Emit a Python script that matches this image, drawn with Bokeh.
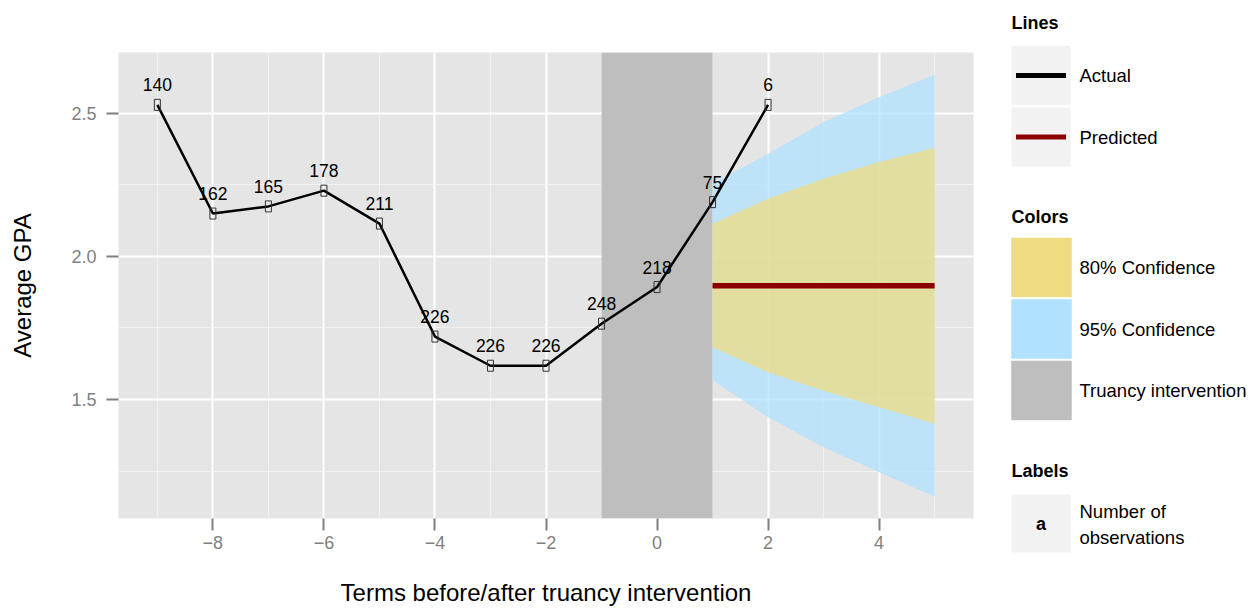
from bokeh.plotting import figure
from bokeh.layouts import row
from bokeh.models import Range1d, FixedTicker
from bokeh.core.properties import value
from bokeh.embed import file_html
from bokeh.resources import INLINE

# ---------------- data ----------------
terms = [-9, -8, -7, -6, -5, -4, -3, -2, -1, 0, 1, 2]
avg_gpa = [2.53, 2.15, 2.175, 2.23, 2.115, 1.72, 1.618, 1.618, 1.765, 1.893, 2.19, 2.53]
n_obs = [140, 162, 165, 178, 211, 226, 226, 226, 248, 218, 75, 6]

forecast_terms = [1, 2, 3, 4, 5]
predicted_gpa = [1.898, 1.898, 1.898, 1.898, 1.898]
lower95 = [1.567, 1.438, 1.333, 1.246, 1.161]
upper95 = [2.255, 2.359, 2.470, 2.557, 2.635]
lower80 = [1.683, 1.595, 1.531, 1.473, 1.415]
upper80 = [2.114, 2.202, 2.272, 2.330, 2.380]

intervention_start = [-1]
intervention_end = [1]

x_ticks = [-8, -6, -4, -2, 0, 2, 4]
x_tick_labels = ["\u22128", "\u22126", "\u22124", "\u22122", "0", "2", "4"]
x_minor = [-9, -7, -5, -3, -1, 1, 3, 5]
y_ticks = [1.5, 2.0, 2.5]
y_tick_labels = ["1.5", "2.0", "2.5"]
y_minor = [1.25, 1.75, 2.25]

line_labels = ["Actual", "Predicted"]
fill_labels = ["80% Confidence", "95% Confidence", "Truancy intervention"]
text_key_labels = ["Number of", "observations"]
legend_titles = ["Lines", "Colors", "Labels"]

# ---------------- style ----------------
FONT = "Liberation Sans"
C_ACTUAL = "black"
C_PRED = "#8B0000"
C_80 = "#EEDC82"
C_95 = "#B0E2FF"
C_BAND = "#BEBEBE"
C_PANEL = "#E5E5E5"
C_KEY = "#F2F2F2"
C_AXIS = "#7F7F7F"

W, H = 990, 609
LW = 258
B_LEFT, B_RIGHT, B_TOP, B_BOTTOM = 118, 17, 52, 91
X_LO, X_HI = -9.7, 5.7
Y_LO, Y_HI = 1.084, 2.713

p = figure(width=W, height=H, x_range=Range1d(X_LO, X_HI), y_range=Range1d(Y_LO, Y_HI),
           output_backend="svg", toolbar_location=None,
           min_border_left=B_LEFT, min_border_right=B_RIGHT,
           min_border_top=B_TOP, min_border_bottom=B_BOTTOM,
           background_fill_color=C_PANEL, border_fill_color="white", outline_line_color=None,
           x_axis_label="Terms before/after truancy intervention", y_axis_label="Average GPA")

p.xaxis.ticker = FixedTicker(ticks=x_ticks, minor_ticks=x_minor)
p.yaxis.ticker = FixedTicker(ticks=y_ticks, minor_ticks=y_minor)
p.xaxis.major_label_overrides = dict(zip(x_ticks, x_tick_labels))
p.yaxis.major_label_overrides = dict(zip(y_ticks, y_tick_labels))

for ax in (p.xaxis, p.yaxis):
    ax.axis_line_color = None
    ax.major_tick_line_color = C_AXIS
    ax.major_tick_line_width = 2
    ax.major_tick_out = 12
    ax.major_tick_in = 0
    ax.minor_tick_line_color = None
    ax.major_label_text_color = C_AXIS
    ax.major_label_text_font = FONT
    ax.major_label_text_font_size = "18px"
    ax.axis_label_text_font = FONT
    ax.axis_label_text_font_size = "24px"
    ax.axis_label_text_font_style = "normal"
    ax.axis_label_text_color = "black"
p.xaxis.major_label_standoff = 5
p.yaxis.major_label_standoff = 10
p.xaxis.axis_label_standoff = 27
p.yaxis.axis_label_standoff = 32

for g in (p.xgrid, p.ygrid):
    g.grid_line_color = "white"
    g.grid_line_width = 2
    g.minor_grid_line_color = "#F2F2F2"
    g.minor_grid_line_width = 1

# intervention band
p.quad(left=intervention_start, right=intervention_end, bottom=[Y_LO], top=[Y_HI],
       fill_color=C_BAND, line_color=None)

# confidence ribbons
p.varea(x=forecast_terms, y1=lower95, y2=upper95, fill_color=C_95, fill_alpha=0.75)
p.varea(x=forecast_terms, y1=lower80, y2=upper80, fill_color=C_80, fill_alpha=0.75)

# predicted line
p.line(forecast_terms, predicted_gpa, line_color=C_PRED, line_width=5.5)

# actual line
p.line(terms, avg_gpa, line_color=C_ACTUAL, line_width=2.5)
p.rect(terms, avg_gpa, width=6, height=11, width_units="screen", height_units="screen",
       fill_alpha=0, line_color="#333333", line_width=1)
p.text(terms, avg_gpa, text=[str(n) for n in n_obs], text_font=value(FONT),
       text_font_size="17.5px", text_align="center", text_baseline="middle",
       y_offset=-20, text_color="black")

# ---------------- legend panel ----------------
# In a row, Bokeh aligns this panel's frame with the main frame, so its ranges
# are set to page pixels: x from W to W+LW, y from frame top to frame bottom.
lg = figure(width=LW, height=H, x_range=Range1d(W, W + LW),
            y_range=Range1d(H - B_BOTTOM, B_TOP),
            output_backend="svg", toolbar_location=None, min_border=0,
            x_axis_type=None, y_axis_type=None, outline_line_color=None,
            background_fill_color="white", border_fill_color="white")

KX = 1040.5    # key centre x
KS = 59        # key size
TX = 1079      # label x
TITLE_X = 1011
LV = "overlay"

def title(txt, y):
    lg.text([TITLE_X], [y], text=[txt], text_font=value(FONT), text_font_size="18px",
            text_font_style="bold", text_baseline="middle", text_align="left",
            text_color="black", level=LV)

def label(txt, y):
    lg.text([TX], [y], text=[txt], text_font=value(FONT), text_font_size="18.5px",
            text_baseline="middle", text_align="left", text_color="black", level=LV)

# Lines
title(legend_titles[0], 22)
line_y = [75, 136.5]
lg.rect([KX, KX], line_y, width=KS, height=KS, fill_color=C_KEY, line_color=None, level=LV)
for yy, col, lab in zip(line_y, [C_ACTUAL, C_PRED], line_labels):
    lg.line([KX - 25, KX + 25], [yy, yy], line_color=col, line_width=5, level=LV)
    label(lab, yy)

# Colors
title(legend_titles[1], 216)
fill_y = [267, 328.5, 390]
lg.rect([KX + 0.5] * 3, fill_y, width=62, height=61, fill_color=[C_80, C_95, C_BAND],
        line_color="white", line_width=1.5, level=LV)
for yy, lab in zip(fill_y, fill_labels):
    label(lab, yy)

# Labels
title(legend_titles[2], 470.5)
lg.rect([KX], [523], width=KS, height=58, fill_color=C_KEY, line_color=None, level=LV)
lg.text([KX], [523], text=["a"], text_font=value(FONT), text_font_size="18px",
        text_font_style="bold", text_align="center", text_baseline="middle",
        text_color="black", level=LV)
label(text_key_labels[0], 511)
label(text_key_labels[1], 537)

layout = row(p, lg)
open("out.html", "w").write(file_html(layout, INLINE))
